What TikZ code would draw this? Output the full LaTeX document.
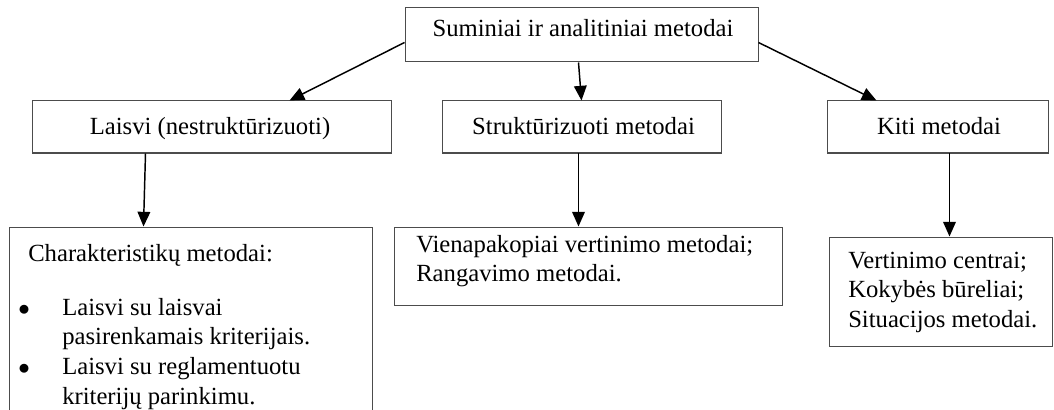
\documentclass[tikz,border=0pt]{standalone}
\usepackage{fontspec}
\setmainfont{Liberation Serif}
\usetikzlibrary{arrows.meta,calc}
\begin{document}
\begin{tikzpicture}[x=0.75pt,y=-0.75pt,
  box/.style={draw=black!70, line width=0.75pt, rectangle, inner sep=0pt},
  lbl/.style={inner sep=0pt, font=\fontsize{18.5}{22.3}\selectfont},
  arr/.style={draw=black, line width=1.1pt, -{Triangle[length=11pt,width=9.5pt]}}]
\clip (0,0) rectangle (1054,410);
\fill[white] (0,0) rectangle (1054,410);
% boxes
\node[box, minimum width=264.75pt, minimum height=40.5pt] (top) at (581.5,35) {};
\node[box, minimum width=269.25pt, minimum height=39pt] (laisvi) at (211.5,127) {};
\node[box, minimum width=209.25pt, minimum height=39pt] (strukt) at (581.5,127) {};
\node[box, minimum width=165.75pt, minimum height=39pt] (kiti) at (937.5,127) {};
\node[box, minimum width=272.25pt, minimum height=152.25pt] (char) at (190.5,328.5) {};
\node[box, minimum width=291pt, minimum height=58.5pt] (viena) at (588,266) {};
\node[box, minimum width=167.25pt, minimum height=81.75pt] (right) at (940.5,291.5) {};
% texts
\node[lbl, anchor=base] (topT) at (583,36.5) {Suminiai ir analitiniai metodai};
\node[lbl, anchor=base] (laisviT) at (210,134) {Laisvi (nestruktūrizuoti)};
\node[lbl, anchor=base] (struktT) at (583.5,134) {Struktūrizuoti metodai};
\node[lbl, anchor=base] (kitiT) at (939,134) {Kiti metodai};
\node[lbl, anchor=base west] (charT) at (28,261) {Charakteristikų metodai:};
\node[lbl, anchor=base west] (charL) at (18,315) {\begin{tabular}[t]{@{}p{33pt}@{}l@{}}$\bullet$ & Laisvi su laisvai\\ & pasirenkamais kriterijais.\\ $\bullet$ & Laisvi su reglamentuotu\\ & kriterijų parinkimu.\end{tabular}};
\node[lbl, anchor=base west] (vienaT) at (416,252) {\begin{tabular}[t]{@{}l@{}}Vienapakopiai vertinimo metodai;\\Rangavimo metodai.\end{tabular}};
\node[lbl, anchor=base west] (rightT) at (848,268) {\begin{tabular}[t]{@{}l@{}}Vertinimo centrai;\\Kokybės būreliai;\\Situacijos metodai.\end{tabular}};
% arrows
\draw[arr] ($(top.south west)+(0,-20)$) -- ($(laisvi.north west)+(258,0)$);
\draw[arr] ($(top.south west)+(174,0)$) -- ($(strukt.north west)+(140,0)$);
\draw[arr] ($(top.south east)+(0,-20)$) -- ($(kiti.north west)+(50,0)$);
\draw[arr] ($(laisvi.south west)+(114,0)$) -- ($(char.north west)+(135,0)$);
\draw[arr] ($(strukt.south west)+(137,0)$) -- ($(viena.north west)+(185,0)$);
\draw[arr] ($(kiti.south west)+(123,0)$) -- ($(right.north west)+(121,0)$);
\end{tikzpicture}
\end{document}
